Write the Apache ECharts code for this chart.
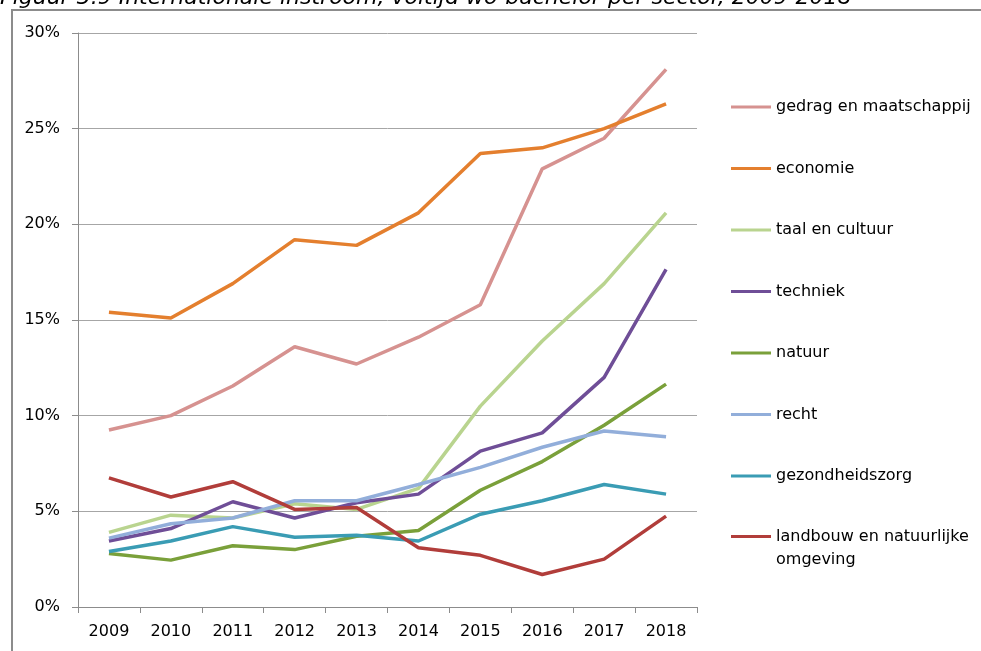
<!DOCTYPE html>
<html>
<head>
<meta charset="utf-8">
<script src="https://cdn.jsdelivr.net/npm/echarts@6/dist/echarts.min.js"></script>
<style>
  html, body { margin: 0; padding: 0; background: #fff; }
  #chart { width: 981px; height: 651px; }
</style>
</head>
<body>
<div id="chart"></div>
<script>
// jaren op de x-as
var years = ['2009', '2010', '2011', '2012', '2013', '2014', '2015', '2016', '2017', '2018'];

// aandeel internationale instroom per sector (%)
var gedrag = [9.25, 10.0, 11.55, 13.6, 12.7, 14.1, 15.8, 22.9, 24.5, 28.1];
var economie = [15.4, 15.1, 16.9, 19.2, 18.9, 20.6, 23.7, 24.0, 25.0, 26.3];
var taal = [3.9, 4.8, 4.65, 5.4, 5.1, 6.2, 10.5, 13.9, 16.9, 20.6];
var techniek = [3.45, 4.1, 5.5, 4.65, 5.45, 5.9, 8.15, 9.1, 12.0, 17.65];
var natuur = [2.8, 2.45, 3.2, 3.0, 3.7, 4.0, 6.1, 7.6, 9.5, 11.65];
var recht = [3.6, 4.35, 4.65, 5.55, 5.55, 6.4, 7.3, 8.35, 9.2, 8.9];
var gezondheid = [2.9, 3.45, 4.2, 3.65, 3.75, 3.45, 4.85, 5.55, 6.4, 5.9];
var landbouw = [6.75, 5.75, 6.55, 5.1, 5.2, 3.1, 2.7, 1.7, 2.5, 4.75];

var sectorNames = ['gedrag en maatschappij', 'economie', 'taal en cultuur', 'techniek',
                   'natuur', 'recht', 'gezondheidszorg', 'landbouw en natuurlijke omgeving'];
var sectorData = [gedrag, economie, taal, techniek, natuur, recht, gezondheid, landbouw];
var sectorColors = ['#D69290', '#E47F2E', '#B9D48F', '#6F4E97', '#7AA03A', '#92AEDA', '#3A9CB4', '#B13D3A'];

var yTicks = [0, 5, 10, 15, 20, 25, 30];

var font = 'DejaVu Sans';
var lineIcon = 'path://M0,6 L40,6 L40,9 L0,9 Z';
var myChart = echarts.init(document.getElementById('chart'));

var series = [];
for (var i = 0; i < sectorNames.length; i++) {
    series.push({
        name: sectorNames[i],
        type: 'line',
        data: sectorData[i],
        symbol: 'none',
        color: sectorColors[i],
        lineStyle: { width: 3.5, color: sectorColors[i] },
        animation: false
    });
}

var legendBase = {
    orient: 'vertical',
    left: 726,
    itemWidth: 40,
    itemHeight: 14,
    itemGap: 39.5,
    icon: lineIcon
};

myChart.setOption({
    backgroundColor: '#fff',
    animation: false,
    graphic: [
        {
            type: 'rect',
            shape: { x: 12, y: 10, width: 1000, height: 700 },
            style: { fill: 'none', stroke: '#8c8c8c', lineWidth: 2 },
            silent: true
        },
        {
            type: 'text',
            left: 0,
            top: -13,
            style: {
                text: 'Figuur 3.9 Internationale instroom, voltijd wo-bachelor per sector, 2009-2018',
                font: 'italic 22px "DejaVu Sans"',
                fill: '#000'
            }
        }
    ],
    grid: { left: 78, right: 284, top: 33, bottom: 44 },
    legend: [
        echarts.util.extend({
            top: 91,
            data: sectorNames.slice(0, 7),
            textStyle: { fontFamily: font, fontSize: 16, color: '#000', lineHeight: 22 }
        }, legendBase),
        // laatste item over twee regels, eerste regel op hoogte van het lijntje
        echarts.util.extend({
            top: 497,
            data: sectorNames.slice(7),
            formatter: function (name) {
                return '\nlandbouw en natuurlijke\nomgeving';
            },
            textStyle: { fontFamily: font, fontSize: 16, color: '#000', lineHeight: 23 }
        }, legendBase)
    ],
    xAxis: {
        type: 'category',
        data: years,
        boundaryGap: true,
        axisLine: { lineStyle: { color: '#8c8c8c', width: 1 } },
        axisTick: { show: true, length: 6, alignWithLabel: false, lineStyle: { color: '#8c8c8c' } },
        axisLabel: { fontFamily: font, fontSize: 16, color: '#000', margin: 17 }
    },
    yAxis: {
        type: 'value',
        min: yTicks[0],
        max: yTicks[yTicks.length - 1],
        interval: 5,
        axisLine: { show: true, lineStyle: { color: '#8c8c8c', width: 1 } },
        axisTick: { show: true, length: 6, lineStyle: { color: '#8c8c8c' } },
        splitLine: { show: true, lineStyle: { color: '#a6a6a6', width: 1 } },
        axisLabel: { fontFamily: font, fontSize: 16, color: '#000', margin: 18, formatter: '{value}%' }
    },
    series: series
});
</script>
</body>
</html>
